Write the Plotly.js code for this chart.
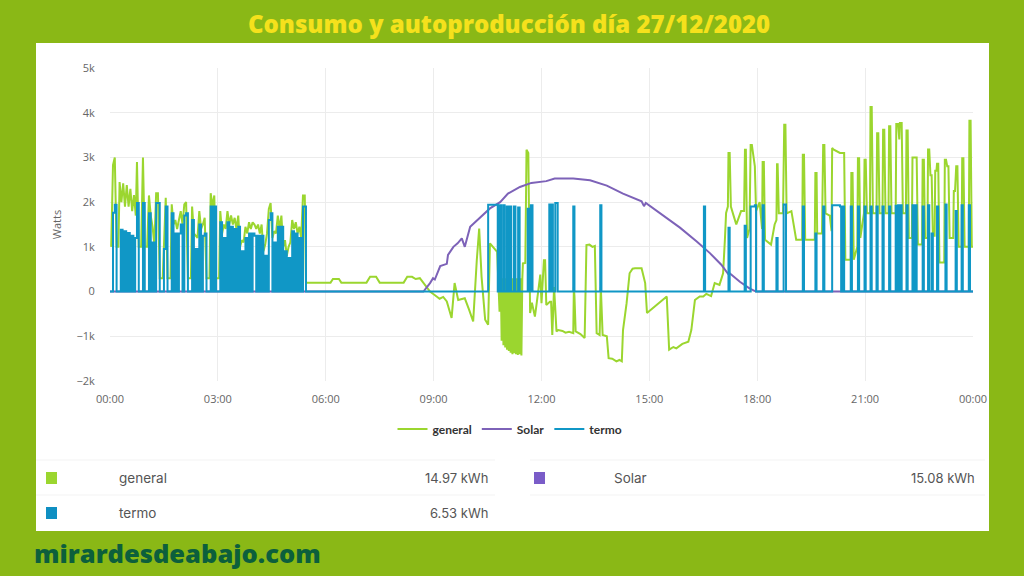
<!DOCTYPE html>
<html><head><meta charset="utf-8">
<script src="https://cdn.plot.ly/plotly-3.0.1.min.js"></script>
<style>html,body{margin:0;padding:0;background:#8ab816}#c{width:1024px;height:576px}</style>
</head><body><div id="c"></div>
<script>
var xTickVals=[0,180,360,540,720,900,1080,1260,1440];
var xTickText=["00:00","03:00","06:00","09:00","12:00","15:00","18:00","21:00","00:00"];
var yTickVals=[-2000,-1000,0,1000,2000,3000,4000,5000];
var yTickText=["−2k","−1k","0","1k","2k","3k","4k","5k"];

// [minute of day, watts]
var generalPts=[[2,1000],[5,2830],[8,3000],[11,1000],[14,1000],[16,2450],[19,2000],[22,2420],[25,1900],[28,2380],[31,1900],[34,2300],[37,1800],[40,2160],[43,1700],[45,2900],[48,1000],[52,1000],[55,3000],[58,1000],[62,1000],[65,2150],[68,1700],[71,1450],[74,1050],[77,2200],[80,2200],[83,300],[88,300],[90,1250],[93,2100],[96,300],[101,300],[103,1950],[106,1500],[109,1600],[112,1400],[115,1600],[118,1800],[121,1500],[124,1950],[127,2000],[130,300],[135,300],[137,1900],[140,1300],[143,1250],[146,1200],[149,1800],[152,1400],[155,1500],[158,1650],[161,300],[166,300],[168,2200],[171,1900],[174,2150],[177,300],[182,300],[184,1800],[187,1300],[190,1500],[193,1400],[196,1800],[199,1500],[202,1700],[205,1500],[208,1650],[211,1400],[214,1700],[217,1000],[220,1150],[223,1100],[226,1450],[229,1300],[232,1550],[235,1400],[238,1550],[241,1500],[244,1400],[247,1500],[250,1300],[253,1500],[256,900],[259,1050],[262,1300],[265,1850],[268,1980],[271,1200],[274,1350],[277,1300],[280,1700],[283,1400],[286,1700],[289,1000],[292,1150],[295,800],[298,1000],[301,1100],[304,1600],[307,1400],[310,1550],[313,1300],[316,1450],[319,1200],[322,2150],[325,2150],[327,200],
[368,200],[372,280],[382,280],[386,200],[428,200],[434,330],[444,330],[450,200],[490,200],[496,330],[504,330],[510,280],[517,300],[523,200],[534,0],[545,-110],[550,-160],[556,-120],[562,-220],[570,-590],[575,190],[581,-190],[592,-150],[599,-400],[606,-670],[612,700],[616,1410],[620,330],[626,-630],[631,-740],[634,1080],[646,890],[650,-450],
[652,300],[653.5,-1100],[655,300],[656.5,-1200],[658,300],[659.5,-1250],[661,300],[662.5,-1300],[664,300],[665.5,-1330],[667,300],[668.5,-1370],[670,300],[671.5,-1400],[673,300],[674.5,-1380],[676,300],[677.5,-1400],[679,300],[680.5,-1420],[682,300],[683.5,-1400],[685,300],[686.5,-1430],[688,300],[689,630],[693,640],[695,3170],[698,3100],[701,-480],[704,-250],[709,-560],[712,-260],[718,380],[720,-260],[724,700],[726,700],[728,-300],[734,-230],[736,-230],[738,-970],[741,100],[745,-890],[748,-860],[755,-880],[760,-920],[766,-900],[773,-930],[774,100],[775,-100],[777,-890],[785,-950],[792,-1040],[795,1040],[800,1050],[805,1000],[809,1020],[812,-930],[817,-970],[818,100],[819,100],[822,-970],[829,-1000],[832,-1490],[838,-1500],[845,-1560],[850,-1530],[854,-1560],[856,-860],[862,-260],[867,410],[872,510],[876,520],[887,520],[893,190],[896,-480],[910,-320],[920,-200],[929,-110],[933,-1300],[940,-1240],[945,-1270],[955,-1170],[965,-1120],[970,-860],[976,-190],[984,-110],[990,-110],[995,-50],[1003,-100],[1009,190],[1017,150],[1023,410],[1026,1160],[1028,1760],[1031,1900],[1032,3100],[1034,3100],[1036,1900],[1040,1720],[1045,1500],[1053,1800],[1058,1800],[1059.5,3170],[1061,3170],[1063,1200],[1067,1400],[1069,3280],[1071,3280],[1076,2800],[1078,1800],[1084,2000],[1088,1400],[1089,2900],[1091,2900],[1093,1160],[1103,1050],[1109,1500],[1112,1600],[1113,2850],[1114,2850],[1116,1750],[1123,1750],[1125,3730],[1127,3730],[1129,1750],[1137,1800],[1145,1160],[1155,1160],[1156,3060],[1158,3060],[1160,1160],[1176,1160],[1177,2650],[1179,2650],[1180,1300],[1188,1300],[1190,3280],[1192,3280],[1194,1750],[1201,1700],[1204,1350],[1205,3210],[1207,3180],[1218,3100],[1225,3100],[1227,710],[1236,710],[1237,2650],[1239,2650],[1241,710],[1247,1000],[1248,2980],[1250,2980],[1252,1200],[1258,1750],[1259,2950],[1261,2950],[1263,1750],[1268,1750],[1269,4130],[1271,4130],[1273,1750],[1279,1750],[1280,3540],[1282,3540],[1284,1750],[1289,1750],[1290,3620],[1292,3620],[1294,1750],[1299,1750],[1300,3700],[1302,3700],[1304,1750],[1311,1750],[1312,3750],[1315,3750],[1317,3400],[1318,3770],[1321,3770],[1323,1750],[1328,1750],[1329,3600],[1331,3600],[1333,1200],[1338,1200],[1339,3000],[1346,3000],[1348,1050],[1355,1050],[1356,2950],[1358,2950],[1360,1200],[1364,1200],[1365,3180],[1367,3180],[1369,2600],[1371,2600],[1373,1250],[1376,1250],[1377,2700],[1379,2700],[1380,2860],[1382,2860],[1384,650],[1392,650],[1393,2950],[1395,2950],[1397,2800],[1399,2800],[1401,1200],[1407,1200],[1408,2250],[1410,2250],[1412,2800],[1414,2800],[1416,1000],[1421,1000],[1422,2980],[1424,2980],[1426,1000],[1433,1000],[1434,3820],[1436,3820],[1438,1000],[1440,1000]];

var solarPts=[[0,0],[523,0],[534,190],[539,300],[542,270],[551,570],[562,620],[564,820],[573,1000],[580,1080],[587,1190],[592,1000],[601,1450],[617,1640],[634,1860],[651,2000],[664,2190],[684,2340],[703,2430],[728,2470],[742,2530],[773,2530],[801,2490],[829,2370],[856,2190],[887,2020],[891,1910],[894,1980],[923,1710],[951,1430],[979,1120],[1001,860],[1020,600],[1031,400],[1033,420],[1051,220],[1067,70],[1078,0],[1440,0]];

var termoPts=[[0,0],[5,1760],[8,1940],[11,0],[18,1380],[21,0],[24,1350],[27,0],[30,1310],[33,0],[36,1250],[39,0],[42,1200],[45,1980],[48,0],[55,1980],[58,0],[65,1750],[68,0],[71,1100],[74,0],[77,1980],[80,1980],[83,0],[90,950],[93,1900],[96,0],[103,1750],[106,0],[109,1300],[112,0],[115,1300],[118,1500],[121,0],[124,1700],[127,1750],[130,0],[137,1600],[140,0],[143,950],[146,0],[149,1500],[152,0],[155,1250],[158,1300],[161,0],[168,1900],[171,0],[174,1900],[177,0],[184,1550],[187,0],[190,1200],[193,0],[196,1550],[199,0],[202,1450],[205,0],[208,1400],[211,0],[214,1450],[217,0],[220,900],[223,0],[226,1200],[229,0],[232,1300],[235,0],[238,1300],[241,1250],[244,0],[247,1250],[250,0],[253,1250],[256,0],[259,800],[262,0],[265,1600],[268,1750],[271,0],[274,1100],[277,0],[280,1450],[283,0],[286,1450],[289,0],[292,900],[295,0],[298,750],[301,0],[304,1350],[307,0],[310,1300],[313,0],[316,1200],[319,0],[322,1900],[325,1900],[327,0],
[631,1940],[647,0],[650,1930],[652.5,0],[656,1930],[658.5,0],[662,1900],[664.5,0],[667,1900],[669.5,0],[674,1900],[676.5,0],[681,1880],[683.5,0],[697,1850],[699,0],[702,1930],[705,0],[733,1950],[735,0],[737,1950],[739,0],[743,1980],[747,0],[773,1900],[775,0],[818,1930],[820,0],[991,1900],[993,0],[1032,1430],[1034,0],[1059,1470],[1061,0],[1069,1900],[1076,1930],[1078,0],[1089,1930],[1091,0],[1112,1200],[1114,0],[1124,1950],[1128,0],[1156,1900],[1158,0],[1177,1300],[1179,0],[1190,1900],[1192,0],[1205,1930],[1218,1900],[1220,0],[1222,1900],[1225,0],[1236,1900],[1238,0],[1248,1900],[1250,0],[1259,1900],[1261,0],[1269,1900],[1271,0],[1279,1900],[1281,0],[1289,1900],[1291,0],[1300,1900],[1302,0],[1311,1920],[1313,0],[1315,1930],[1317,0],[1319,1930],[1321,0],[1329,1930],[1331,0],[1339,1930],[1341,0],[1344,1930],[1346,0],[1356,1900],[1358,0],[1365,1930],[1367,0],[1371,1300],[1373,0],[1380,1900],[1382,0],[1394,1950],[1396,0],[1411,1800],[1413,0],[1421,1930],[1423,0],[1433,1930],[1435,0],[1440,0]];

var summaryNames=["general","termo","Solar"];
var summaryValues=["14.97 kWh","6.53 kWh","15.08 kWh"];
var pageTitle="Consumo y autoproducción día 27/12/2020";
var siteName="mirardesdeabajo.com";

function col(a,i){return a.map(function(p){return p[i];});}
var cGreen="#9bd62f",cPurple="#7d62b8",cBlue="#1097c6";
var PL=110,PR=973,PT=68,PB=381;
function fx(p){return (p-PL)/(PR-PL);}
function fy(p){return (PB-p)/(PB-PT);}
function rect(x0,y0,x1,y1,c){return {type:"rect",xref:"paper",yref:"paper",layer:"below",x0:fx(x0),x1:fx(x1),y0:fy(y1),y1:fy(y0),fillcolor:c,line:{width:0}};}
function hline(x0,x1,y){return {type:"line",xref:"paper",yref:"paper",layer:"below",x0:fx(x0),x1:fx(x1),y0:fy(y),y1:fy(y),line:{color:"#f3f3f3",width:1}};}
function txt(x,y,t,anchor,size,c,fam,w){return {xref:"paper",yref:"paper",x:fx(x),y:fy(y),text:t,showarrow:false,xanchor:anchor,yanchor:"middle",font:{size:size,color:c,family:fam,weight:w||400}};}

var traces=[
 {name:"general",x:col(generalPts,0),y:col(generalPts,1),mode:"lines",line:{color:cGreen,width:2}},
 {name:"Solar",x:col(solarPts,0),y:col(solarPts,1),mode:"lines",line:{color:cPurple,width:2}},
 {name:"termo",x:col(termoPts,0),y:col(termoPts,1),mode:"lines",line:{color:cBlue,width:2,shape:"hv"}}
];
var layout={
 width:1024,height:576,margin:{l:PL,r:1024-PR,t:PT,b:576-PB,pad:0},
 paper_bgcolor:"#8ab816",plot_bgcolor:"rgba(0,0,0,0)",showlegend:true,
 legend:{orientation:"h",x:fx(510),xanchor:"center",y:fy(429),yanchor:"middle",font:{family:"Lato",size:12,color:"#333",weight:700},bgcolor:"rgba(0,0,0,0)"},
 xaxis:{range:[0,1440],tickvals:xTickVals,ticktext:xTickText,showgrid:true,gridcolor:"#ececec",gridwidth:1,zeroline:false,showline:false,ticks:"outside",ticklen:8,tickcolor:"rgba(0,0,0,0)",tickfont:{family:"Open Sans",size:11,color:"#666"}},
 yaxis:{range:[-2000,5000],tickvals:yTickVals,ticktext:yTickText,showgrid:true,gridcolor:"#ececec",gridwidth:1,zeroline:false,showline:false,ticks:"outside",ticklen:12,tickcolor:"rgba(0,0,0,0)",tickfont:{family:"Open Sans",size:11,color:"#666"},
  title:{text:"Watts",standoff:12,font:{family:"Open Sans",size:11,color:"#666"}}},
 shapes:[rect(36,43,989,531,"#ffffff"),
  hline(36,495,460),hline(36,495,495),hline(530,985,460),hline(530,985,495),
  rect(46,472,57,484,cGreen),rect(46,507,57,519,"#0f8fc2"),rect(534,472,545,484,"#7a5cc8")],
 annotations:[
  txt(509,23,pageTitle,"center",24,"#f5e11c","Open Sans",800),
  txt(32,553,siteName,"left",25.5,"#0c5f3c","Open Sans",800),
  txt(117,477.5,summaryNames[0],"left",13.5,"#555","Inter"),
  txt(117,512.5,summaryNames[1],"left",13.5,"#555","Inter"),
  txt(612,477.5,summaryNames[2],"left",13.5,"#555","Inter"),
  txt(490,477.5,summaryValues[0],"right",13,"#555","Inter"),
  txt(490,512.5,summaryValues[1],"right",13,"#555","Inter"),
  txt(977,477.5,summaryValues[2],"right",13,"#555","Inter")
 ]
};
Plotly.newPlot("c",traces,layout,{displayModeBar:false,staticPlot:true});
</script></body></html>
